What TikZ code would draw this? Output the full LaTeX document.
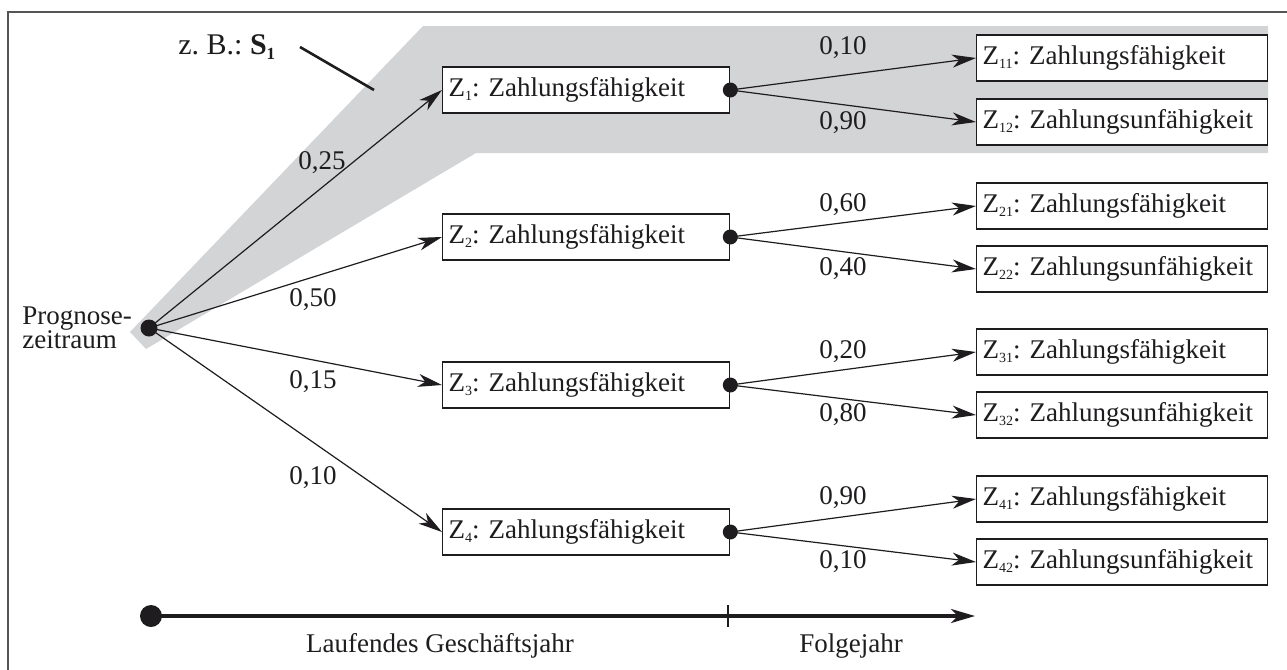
\documentclass[tikz,border=0pt]{standalone}
\usepackage{fontspec}
\setmainfont{Liberation Serif}
\usetikzlibrary{arrows.meta}
\frenchspacing
\definecolor{shadecol}{RGB}{211,212,214}
\definecolor{framecol}{RGB}{85,85,85}
\definecolor{ink}{RGB}{30,28,30}
\newcommand{\zsub}[1]{\raisebox{-0.3ex}{\fontsize{7}{7}\selectfont #1}}
\newcommand{\bx}[2]{\mbox{Z\zsub{#1}: #2}}
\tikzset{
  statebox/.style={draw=ink, line width=0.65pt, fill=white, anchor=west, minimum height=23pt, inner xsep=3pt, inner ysep=0pt, align=left, font=\fontsize{13.5}{15}\selectfont, text=ink},
  midbox/.style={statebox, minimum width=143.5pt, text width=137.5pt},
  endbox/.style={statebox, minimum width=145.5pt, text width=139.5pt},
  prob/.style={font=\fontsize{13.5}{15}\selectfont, text=ink, inner sep=0pt},
  branch/.style={draw=ink, line width=0.6pt, -{Stealth[length=12pt, width=6.5pt, inset=3.5pt]}},
  dotnode/.style={circle, fill=ink, inner sep=0pt, minimum size=7.5pt},
}
\begin{document}
\begin{tikzpicture}[x=0.5pt, y=-0.5pt]
\useasboundingbox (0,0) rectangle (1287,670);
% frame
\draw[framecol, line width=1pt] (8,670) -- (8,12) -- (1287,12);
% shaded scenario
\fill[shadecol] (423,26) -- (1268,26) -- (1268,153) -- (476,153) -- (146,349) -- (130,332) -- cycle;
% annotation
\node[prob, font=\fontsize{15}{17}\selectfont, anchor=west] (zb) at (178,47) {z. B.: \textbf{S\raisebox{-0.3ex}{\fontsize{8.5}{8.5}\selectfont\bfseries 1}}};
\coordinate (zbs) at (300,47);
\coordinate (zbe) at (374,90);
\draw[ink, line width=1.3pt] (zbs) -- (zbe);
% root
\node[dotnode, minimum size=8.5pt] (root) at (149,328) {};
\node[prob, anchor=west, align=left, font=\fontsize{13.5}{12}\selectfont] (rootlab) at (22,328) {Prognose-\\zeitraum};
% middle boxes
\node[midbox] (z1) at (442,90) {\bx{1}{Zahlungsfähigkeit}};
\node[midbox] (z2) at (442,237) {\bx{2}{Zahlungsfähigkeit}};
\node[midbox] (z3) at (442,385) {\bx{3}{Zahlungsfähigkeit}};
\node[midbox] (z4) at (442,532) {\bx{4}{Zahlungsfähigkeit}};
% end boxes
\node[endbox] (z11) at (976,58) {\bx{11}{Zahlungsfähigkeit}};
\node[endbox] (z12) at (976,122) {\bx{12}{Zahlungsunfähigkeit}};
\node[endbox] (z21) at (976,206) {\bx{21}{Zahlungsfähigkeit}};
\node[endbox] (z22) at (976,269) {\bx{22}{Zahlungsunfähigkeit}};
\node[endbox] (z31) at (976,352) {\bx{31}{Zahlungsfähigkeit}};
\node[endbox] (z32) at (976,415) {\bx{32}{Zahlungsunfähigkeit}};
\node[endbox] (z41) at (976,499) {\bx{41}{Zahlungsfähigkeit}};
\node[endbox] (z42) at (976,562) {\bx{42}{Zahlungsunfähigkeit}};
% dots on middle boxes
\foreach \n in {1,2,3,4}{\node[dotnode] (d\n) at (z\n.east) {};}
% root branches
\foreach \n in {1,2,3,4}{\draw[branch] (root.center) -- (z\n.west);}
% second-level branches
\foreach \n in {1,2,3,4}{
  \draw[branch] (d\n.center) -- (z\n1.west);
  \draw[branch] (d\n.center) -- (z\n2.west);
}
% probabilities
\node[prob] (p1) at (322,163) {0,25};
\node[prob] (p2) at (313,300) {0,50};
\node[prob] (p3) at (313,382) {0,15};
\node[prob] (p4) at (313,478) {0,10};
\node[prob] (p11) at (843,48) {0,10};
\node[prob] (p12) at (843,123) {0,90};
\node[prob] (p21) at (843,205) {0,60};
\node[prob] (p22) at (843,269) {0,40};
\node[prob] (p31) at (843,352) {0,20};
\node[prob] (p32) at (843,415) {0,80};
\node[prob] (p41) at (843,498) {0,90};
\node[prob] (p42) at (843,562) {0,10};
% time axis
\node[circle, fill=ink, inner sep=0pt, minimum size=11pt] (ax0) at (151,616) {};
\coordinate (ax1) at (975,616);
\coordinate (tk1) at (728,605);
\coordinate (tk2) at (728,627);
\draw[ink, line width=1.6pt, -{Stealth[length=12pt, width=7pt, inset=3.5pt]}] (ax0.center) -- (ax1);
\draw[ink, line width=0.7pt] (tk1) -- (tk2);
\node[prob] (l1) at (440,646) {Laufendes Geschäftsjahr};
\node[prob] (l2) at (851,646) {Folgejahr};
\end{tikzpicture}
\end{document}
